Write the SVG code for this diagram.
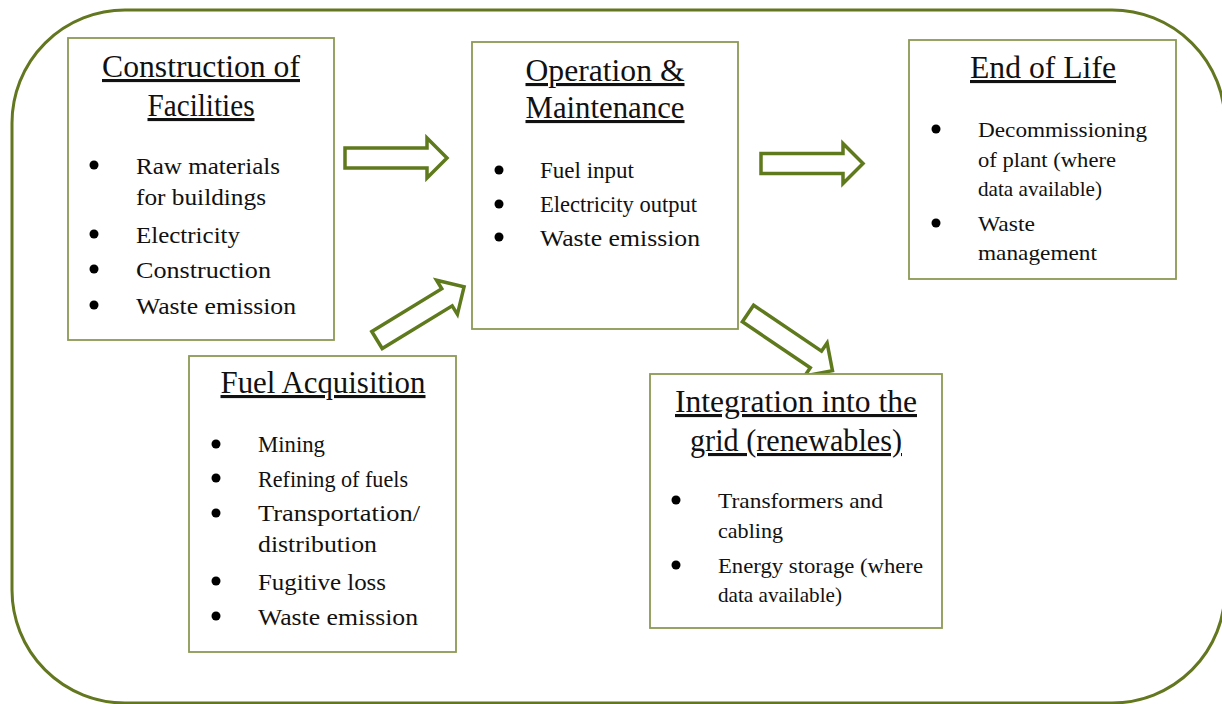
<svg xmlns="http://www.w3.org/2000/svg" width="1222" height="704" viewBox="0 0 1222 704">
<style>
.frame{fill:none;stroke:#62771f;stroke-width:3}
.box{fill:#fff;stroke:#8c9a55;stroke-width:1.8}
.arrow{fill:#fff;stroke:#5f7a1c;stroke-width:3.5;stroke-linejoin:miter}
text{font-family:"Liberation Serif","Times New Roman",serif;fill:#111}
.t{font-size:31px;text-anchor:middle;text-decoration:underline}
.i{font-size:24px}
.s{font-size:22px}
.b{fill:#000}
</style>
<defs>
<path id="ar" d="M0,-10 H82 V-20 L102,0 L82,20 V10 H0 Z"/>
</defs>
<rect class="frame" x="12" y="10" width="1213" height="693" rx="113" ry="113"/>
<g id="connectors">
<use href="#ar" class="arrow" transform="translate(345,158)"/>
<use href="#ar" class="arrow" transform="translate(761,163.5)"/>
<use href="#ar" class="arrow" transform="translate(377,340) rotate(-31.4)"/>
<use href="#ar" class="arrow" transform="translate(748,313.5) rotate(34.1)"/>
</g>
<g id="construction">
<rect class="box" x="68" y="38" width="266" height="302"/>
<text class="t" x="201" y="77" textLength="198" lengthAdjust="spacingAndGlyphs">Construction of</text>
<text class="t" x="201" y="116" textLength="107" lengthAdjust="spacingAndGlyphs">Facilities</text>
<circle class="b" cx="94" cy="165" r="4.5"/>
<circle class="b" cx="94" cy="234" r="4.5"/>
<circle class="b" cx="94" cy="269" r="4.5"/>
<circle class="b" cx="94" cy="305" r="4.5"/>
<text class="i" x="136" y="174" textLength="144" lengthAdjust="spacingAndGlyphs">Raw materials</text>
<text class="i" x="136" y="205" textLength="130" lengthAdjust="spacingAndGlyphs">for buildings</text>
<text class="i" x="136" y="243" textLength="104" lengthAdjust="spacingAndGlyphs">Electricity</text>
<text class="i" x="136" y="278" textLength="135" lengthAdjust="spacingAndGlyphs">Construction</text>
<text class="i" x="136" y="314" textLength="160" lengthAdjust="spacingAndGlyphs">Waste emission</text>
</g>
<g id="operation">
<rect class="box" x="472" y="42" width="266" height="287"/>
<text class="t" x="605" y="81" textLength="159" lengthAdjust="spacingAndGlyphs">Operation &amp;</text>
<text class="t" x="605" y="118" textLength="159" lengthAdjust="spacingAndGlyphs">Maintenance</text>
<circle class="b" cx="499" cy="170" r="4.5"/>
<circle class="b" cx="499" cy="204" r="4.5"/>
<circle class="b" cx="499" cy="237" r="4.5"/>
<text class="i" x="540" y="178" textLength="94" lengthAdjust="spacingAndGlyphs">Fuel input</text>
<text class="i" x="540" y="212" textLength="157" lengthAdjust="spacingAndGlyphs">Electricity output</text>
<text class="i" x="540" y="246" textLength="160" lengthAdjust="spacingAndGlyphs">Waste emission</text>
</g>
<g id="endoflife">
<rect class="box" x="909" y="40" width="267" height="239"/>
<text class="t" x="1043" y="78" textLength="146" lengthAdjust="spacingAndGlyphs">End of Life</text>
<circle class="b" cx="936" cy="129" r="4.5"/>
<circle class="b" cx="936" cy="223" r="4.5"/>
<text class="s" x="978" y="137" textLength="169" lengthAdjust="spacingAndGlyphs">Decommissioning</text>
<text class="s" x="978" y="167" textLength="138" lengthAdjust="spacingAndGlyphs">of plant (where</text>
<text class="s" x="978" y="196" textLength="124" lengthAdjust="spacingAndGlyphs">data available)</text>
<text class="s" x="978" y="231" textLength="57" lengthAdjust="spacingAndGlyphs">Waste</text>
<text class="s" x="978" y="260" textLength="119" lengthAdjust="spacingAndGlyphs">management</text>
</g>
<g id="fuel">
<rect class="box" x="189" y="356" width="267" height="296"/>
<text class="t" x="323" y="393" textLength="205" lengthAdjust="spacingAndGlyphs">Fuel Acquisition</text>
<circle class="b" cx="216" cy="444" r="4.5"/>
<circle class="b" cx="216" cy="478" r="4.5"/>
<circle class="b" cx="216" cy="513" r="4.5"/>
<circle class="b" cx="216" cy="581" r="4.5"/>
<circle class="b" cx="216" cy="616" r="4.5"/>
<text class="i" x="258" y="452" textLength="67" lengthAdjust="spacingAndGlyphs">Mining</text>
<text class="i" x="258" y="487" textLength="150" lengthAdjust="spacingAndGlyphs">Refining of fuels</text>
<text class="i" x="258" y="521" textLength="162" lengthAdjust="spacingAndGlyphs">Transportation/</text>
<text class="i" x="258" y="552" textLength="119" lengthAdjust="spacingAndGlyphs">distribution</text>
<text class="i" x="258" y="590" textLength="128" lengthAdjust="spacingAndGlyphs">Fugitive loss</text>
<text class="i" x="258" y="625" textLength="160" lengthAdjust="spacingAndGlyphs">Waste emission</text>
</g>
<g id="integration">
<rect class="box" x="650" y="374" width="292" height="254"/>
<text class="t" x="796" y="412" textLength="242" lengthAdjust="spacingAndGlyphs">Integration into the</text>
<text class="t" x="796" y="451" textLength="212" lengthAdjust="spacingAndGlyphs">grid (renewables)</text>
<circle class="b" cx="676" cy="500" r="4.5"/>
<circle class="b" cx="676" cy="565" r="4.5"/>
<text class="s" x="718" y="508" textLength="165" lengthAdjust="spacingAndGlyphs">Transformers and</text>
<text class="s" x="718" y="538" textLength="65" lengthAdjust="spacingAndGlyphs">cabling</text>
<text class="s" x="718" y="573" textLength="205" lengthAdjust="spacingAndGlyphs">Energy storage (where</text>
<text class="s" x="718" y="602" textLength="124" lengthAdjust="spacingAndGlyphs">data available)</text>
</g>
</svg>
